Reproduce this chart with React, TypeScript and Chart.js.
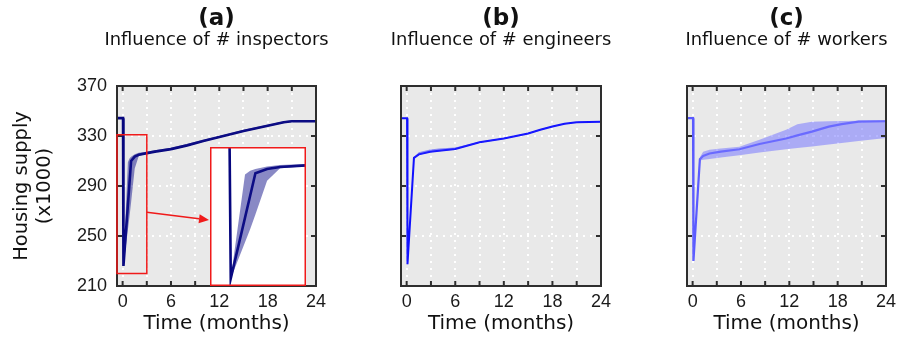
import React, { useEffect, useRef } from "react";
import { Chart, registerables } from "chart.js";

Chart.register(...registerables);

// ---- shared axes ----
const X_MIN = -0.7;
const X_MAX = 24;
const X_TICKS = [0, 3, 6, 9, 12, 15, 18, 21, 24];
const X_LABELED = [0, 6, 12, 18, 24];
const Y_MIN = 210;
const Y_MAX = 370;
const Y_TICKS = [210, 250, 290, 330, 370];

// ---- (a) influence of # inspectors ----
const TIME_A = [-0.7, 0.05, 0.1, 0.65, 0.85, 1.05, 1.5, 2.0, 3, 4, 5, 6, 8, 10, 12, 13, 15, 18, 20, 21, 24];
const MEAN_A = [344.3, 344.3, 226, 274.6, 292.3, 310, 313.5, 315, 316.3, 317.5, 318.5, 319.5, 322.5, 326, 329.2, 330.8, 334, 338.2, 341, 341.8, 341.8];
const UPPER_A = [344.3, 344.3, 226, 309, 312, 313.5, 315.5, 316.7, 317.5, 318.6, 319.6, 320.6, 323.6, 327, 330.1, 331.6, 335, 339.1, 341.9, 342.6, 342.6];
const LOWER_A = [344.3, 344.3, 226, 255, 265.5, 277, 304, 314, 315.6, 317, 318, 319, 322, 325.5, 328.7, 330.2, 333.5, 337.7, 340.5, 341.3, 341.3];

// ---- (b) influence of # engineers ----
const TIME_B = [-0.7, 0.05, 0.1, 0.9, 1.5, 2.9, 4, 6, 9, 12, 15, 16.5, 18, 19.5, 21, 24];
const MEAN_B = [344.3, 344.3, 227.5, 312.5, 315.3, 317.4, 318.2, 319.6, 325, 328, 332, 335, 337.6, 339.8, 341, 341.4];
const UPPER_B = [344.3, 344.3, 227.5, 313, 317, 319.2, 320, 320.8, 325.5, 328.4, 332.4, 335.4, 338, 340.1, 341.3, 341.7];
const LOWER_B = [344.3, 344.3, 227.5, 312, 314.8, 317, 317.8, 319.2, 324.7, 327.7, 331.7, 334.7, 337.3, 339.5, 340.8, 341.1];

// ---- (c) influence of # workers ----
const TIME_C = [-0.7, 0.05, 0.1, 0.9, 1.3, 2.1, 3.5, 5.8, 8.3, 11.6, 13, 14.8, 16.9, 18.5, 20.6, 24];
const MEAN_C = [344.3, 344.3, 230, 311.4, 314, 316, 317.5, 319.4, 323.6, 328, 330.5, 333.5, 337.5, 339.5, 341.5, 341.8];
const UPPER_C = [344.3, 344.3, 230, 313, 317.5, 319, 320, 321.5, 327, 335, 339.5, 341.5, 341.8, 342, 342.2, 342.7];
const LOWER_C = [344.3, 344.3, 230, 310.5, 311, 311.6, 312.8, 314.6, 316.8, 319.4, 320.4, 321.7, 323.2, 324.4, 326, 328.5];

// ---- zoom window shown in the inset of (a) ----
const ZOOM_X = [-0.7, 3];
const ZOOM_Y = [220, 331];
const ARROW_FROM_Y = 269;

// ---- layout ----
const W = 898;
const H = 339;
const PLOT_TOP = 86;
const PLOT_BOTTOM = 286;
const PAD_RIGHT = 24;
const INSET_BOX = { left: 210, top: 147, width: 96, height: 139 };

const PLOT_BG = "#e9e9e9";
const FRAME = "#2e2e2e";
const TEXT = "#111111";
const RED = "#f01a1a";
const TITLE_FONT = '"DejaVu Sans", Verdana, sans-serif';
const TICK_FONT = '"Liberation Sans", Arial, sans-serif';

type Panel = {
  letter: string;
  subtitle: string;
  time: number[];
  mean: number[];
  upper: number[];
  lower: number[];
  line: string;
  band: string;
  lineWidth: number;
  yLabels: boolean;
  left: number;
  axisWidth: number;
  plotWidth: number;
  zoomMarker?: boolean;
};

const PANELS: Panel[] = [
  {
    letter: "(a)", subtitle: "Influence of # inspectors",
    time: TIME_A, mean: MEAN_A, upper: UPPER_A, lower: LOWER_A,
    line: "#06067e", band: "rgba(20,20,140,0.5)", lineWidth: 2.6,
    yLabels: true, left: 0, axisWidth: 117, plotWidth: 199, zoomMarker: true,
  },
  {
    letter: "(b)", subtitle: "Influence of # engineers",
    time: TIME_B, mean: MEAN_B, upper: UPPER_B, lower: LOWER_B,
    line: "#1010ff", band: "rgba(40,40,255,0.5)", lineWidth: 2,
    yLabels: false, left: 361, axisWidth: 40, plotWidth: 200,
  },
  {
    letter: "(c)", subtitle: "Influence of # workers",
    time: TIME_C, mean: MEAN_C, upper: UPPER_C, lower: LOWER_C,
    line: "#5a5aff", band: "rgba(120,120,255,0.55)", lineWidth: 2.2,
    yLabels: false, left: 647, axisWidth: 40, plotWidth: 199,
  },
];

const pts = (xs: number[], ys: number[]) => xs.map((x, i) => ({ x, y: ys[i] }));

function bandDatasets(p: { time: number[]; mean: number[]; upper: number[]; lower: number[]; line: string; band: string; lineWidth: number }) {
  return [
    { data: pts(p.time, p.upper), borderWidth: 0, borderColor: "transparent", backgroundColor: p.band, fill: "+1", pointRadius: 0, tension: 0 },
    { data: pts(p.time, p.lower), borderWidth: 0, borderColor: "transparent", fill: false, pointRadius: 0, tension: 0 },
    { data: pts(p.time, p.mean), borderWidth: p.lineWidth, borderColor: p.line, fill: false, pointRadius: 0, tension: 0 },
  ];
}

// grey plot area, dark frame and inward tick marks on all four sides
const framePlugin = {
  id: "plotFrame",
  beforeDraw(chart: any) {
    const { ctx, chartArea: a } = chart;
    ctx.save();
    ctx.fillStyle = PLOT_BG;
    ctx.fillRect(a.left, a.top, a.right - a.left, a.bottom - a.top);
    ctx.restore();
  },
  afterDraw(chart: any) {
    const { ctx, chartArea: a, scales } = chart;
    const tick = 5;
    ctx.save();
    ctx.strokeStyle = FRAME;
    ctx.lineWidth = 2;
    ctx.beginPath();
    for (const v of X_TICKS) {
      const px = scales.x.getPixelForValue(v);
      ctx.moveTo(px, a.bottom); ctx.lineTo(px, a.bottom - tick);
      ctx.moveTo(px, a.top); ctx.lineTo(px, a.top + tick);
    }
    for (const v of Y_TICKS) {
      const py = scales.y.getPixelForValue(v);
      ctx.moveTo(a.left, py); ctx.lineTo(a.left + tick, py);
      ctx.moveTo(a.right, py); ctx.lineTo(a.right - tick, py);
    }
    ctx.stroke();
    ctx.strokeRect(a.left, a.top, a.right - a.left, a.bottom - a.top);
    ctx.restore();
  },
};

function titlePlugin(letter: string, subtitle: string) {
  return {
    id: "panelTitle",
    afterDraw(chart: any) {
      const { ctx, chartArea: a } = chart;
      const cx = (a.left + a.right) / 2;
      ctx.save();
      ctx.fillStyle = TEXT;
      ctx.textAlign = "center";
      ctx.textBaseline = "alphabetic";
      ctx.font = `bold 23px ${TITLE_FONT}`;
      ctx.fillText(letter, cx, 25);
      ctx.font = `17.9px ${TITLE_FONT}`;
      ctx.fillText(subtitle, cx, 44.5);
      ctx.restore();
    },
  };
}

// red window around the dip, with an arrow pointing to the inset
const zoomMarkerPlugin = {
  id: "zoomMarker",
  afterDraw(chart: any) {
    const { ctx, scales } = chart;
    const x0 = scales.x.getPixelForValue(ZOOM_X[0]);
    const x1 = scales.x.getPixelForValue(ZOOM_X[1]);
    const y0 = scales.y.getPixelForValue(ZOOM_Y[1]);
    const y1 = scales.y.getPixelForValue(ZOOM_Y[0]);
    ctx.save();
    ctx.strokeStyle = RED;
    ctx.fillStyle = RED;
    ctx.lineWidth = 1.5;
    ctx.strokeRect(x0, y0, x1 - x0, y1 - y0);
    const sx = x1;
    const sy = scales.y.getPixelForValue(ARROW_FROM_Y);
    const ex = INSET_BOX.left - 1;
    const ey = INSET_BOX.top + 73;
    const ang = Math.atan2(ey - sy, ex - sx);
    const hl = 10;
    const hw = 4.5;
    const bx = ex - hl * Math.cos(ang);
    const by = ey - hl * Math.sin(ang);
    ctx.beginPath();
    ctx.moveTo(sx, sy);
    ctx.lineTo(bx, by);
    ctx.stroke();
    ctx.beginPath();
    ctx.moveTo(ex, ey);
    ctx.lineTo(bx + hw * Math.sin(ang), by - hw * Math.cos(ang));
    ctx.lineTo(bx - hw * Math.sin(ang), by + hw * Math.cos(ang));
    ctx.closePath();
    ctx.fill();
    ctx.restore();
  },
};

function PanelChart({ p }: { p: Panel }) {
  const ref = useRef<HTMLCanvasElement>(null);
  useEffect(() => {
    if (!ref.current) return;
    const plugins: any[] = [framePlugin, titlePlugin(p.letter, p.subtitle)];
    if (p.zoomMarker) plugins.push(zoomMarkerPlugin);
    const chart = new Chart(ref.current, {
      type: "line",
      data: { datasets: bandDatasets(p) as any },
      options: {
        animation: false,
        responsive: false,
        events: [],
        layout: { padding: { top: PLOT_TOP, right: PAD_RIGHT, bottom: 0, left: 0 } },
        plugins: { legend: { display: false }, tooltip: { enabled: false }, title: { display: false } },
        scales: {
          x: {
            type: "linear",
            min: X_MIN,
            max: X_MAX,
            afterBuildTicks: (s: any) => { s.ticks = X_TICKS.map((v) => ({ value: v })); },
            afterFit: (s: any) => { s.height = H - PLOT_BOTTOM; },
            grid: { color: "#ffffff", lineWidth: 2, drawTicks: false },
            border: { display: false, dash: [2, 5] },
            ticks: {
              autoSkip: false,
              maxRotation: 0,
              padding: 5,
              color: "#1a1a1a",
              font: { family: TICK_FONT, size: 18 },
              callback: (v: any) => (X_LABELED.includes(Number(v)) ? String(v) : ""),
            },
            title: {
              display: true,
              text: "Time (months)",
              color: TEXT,
              font: { family: TITLE_FONT, size: 20 },
              padding: { top: 0, bottom: 3 },
            },
          },
          y: {
            type: "linear",
            min: Y_MIN,
            max: Y_MAX,
            afterBuildTicks: (s: any) => { s.ticks = Y_TICKS.map((v) => ({ value: v })); },
            afterFit: (s: any) => { s.width = p.axisWidth; },
            grid: { color: "#ffffff", lineWidth: 2, drawTicks: false },
            border: { display: false, dash: [2, 5] },
            ticks: {
              display: p.yLabels,
              padding: 10,
              color: "#1a1a1a",
              font: { family: TICK_FONT, size: 18 },
            },
            title: {
              display: p.yLabels,
              text: ["Housing supply", "(x1000)"],
              color: TEXT,
              font: { family: TITLE_FONT, size: 19.5 },
              padding: { top: 10, bottom: 0 },
            },
          },
        },
      } as any,
      plugins,
    });
    return () => chart.destroy();
  }, [p]);
  const width = p.axisWidth + p.plotWidth + PAD_RIGHT;
  return (
    <canvas
      ref={ref}
      width={width}
      height={H}
      style={{ position: "absolute", left: p.left, top: 0, width, height: H }}
    />
  );
}

// magnified view of the dip in (a): white background, red frame
const insetFramePlugin = {
  id: "insetFrame",
  beforeDraw(chart: any) {
    const { ctx, width, height } = chart;
    ctx.save();
    ctx.fillStyle = "#ffffff";
    ctx.fillRect(0, 0, width, height);
    ctx.restore();
  },
  afterDraw(chart: any) {
    const { ctx, width, height } = chart;
    ctx.save();
    ctx.strokeStyle = RED;
    ctx.lineWidth = 1.5;
    ctx.strokeRect(0.75, 0.75, width - 1.5, height - 1.5);
    ctx.restore();
  },
};

function InsetChart() {
  const ref = useRef<HTMLCanvasElement>(null);
  useEffect(() => {
    if (!ref.current) return;
    const a = PANELS[0];
    const chart = new Chart(ref.current, {
      type: "line",
      data: { datasets: bandDatasets(a) as any },
      options: {
        animation: false,
        responsive: false,
        events: [],
        layout: { padding: 0 },
        plugins: { legend: { display: false }, tooltip: { enabled: false } },
        scales: {
          x: { type: "linear", min: ZOOM_X[0], max: ZOOM_X[1], display: false },
          y: { type: "linear", min: ZOOM_Y[0], max: ZOOM_Y[1], display: false },
        },
      } as any,
      plugins: [insetFramePlugin],
    });
    return () => chart.destroy();
  }, []);
  return (
    <canvas
      ref={ref}
      width={INSET_BOX.width}
      height={INSET_BOX.height}
      style={{
        position: "absolute",
        left: INSET_BOX.left,
        top: INSET_BOX.top,
        width: INSET_BOX.width,
        height: INSET_BOX.height,
      }}
    />
  );
}

export default function App() {
  return (
    <div
      style={{
        position: "absolute",
        left: 0,
        top: 0,
        width: W,
        height: H,
        overflow: "hidden",
        background: "#ffffff",
      }}
    >
      {PANELS.map((p) => (
        <PanelChart key={p.letter} p={p} />
      ))}
      <InsetChart />
    </div>
  );
}
